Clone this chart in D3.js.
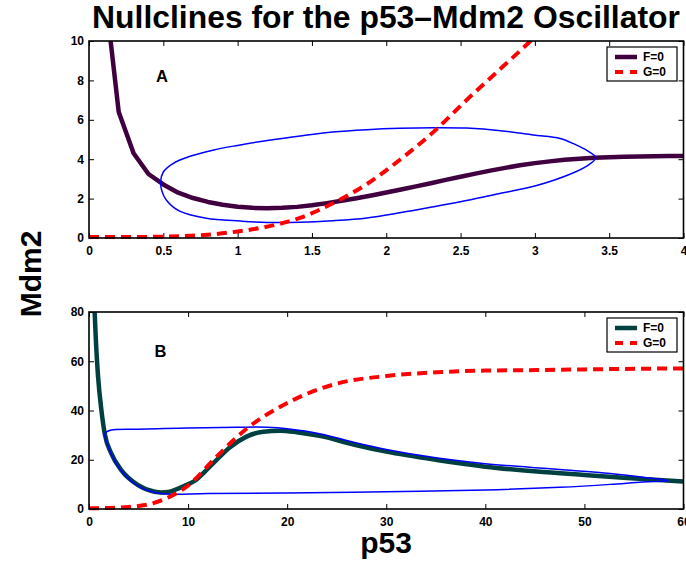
<!DOCTYPE html>
<html>
<head>
<meta charset="utf-8">
<script src="https://cdn.jsdelivr.net/npm/d3@7/dist/d3.min.js"></script>
<style>
  html, body { margin: 0; padding: 0; background: #fff; }
  svg { display: block; }
  text { font-family: "Liberation Sans", Arial, Helvetica, sans-serif; font-weight: bold; fill: #000; }
</style>
</head>
<body>
<svg id="chart" width="686" height="569"></svg>
<script>
// ---------------- DATA ----------------
const titleText = "Nullclines for the p53\u2013Mdm2 Oscillator";
const xLabelText = "p53";
const yLabelText = "Mdm2";
const legendLabels = ["F=0", "G=0"];
const panelLabels = ["A", "B"];

// Panel A ticks
const xTicksA = [0, 0.5, 1, 1.5, 2, 2.5, 3, 3.5, 4];
const yTicksA = [0, 2, 4, 6, 8, 10];
// Panel B ticks
const xTicksB = [0, 10, 20, 30, 40, 50, 60];
const yTicksB = [0, 20, 40, 60, 80];

// Panel A: F=0 nullcline
const fA_p53  = [0.1, 0.2, 0.3, 0.4, 0.5, 0.6, 0.7, 0.8, 0.9, 1.0, 1.1, 1.2, 1.3, 1.4, 1.5, 1.6, 1.7, 1.8, 1.9, 2.0, 2.1, 2.2, 2.3, 2.4, 2.5, 2.6, 2.7, 2.8, 2.9, 3.0, 3.1, 3.2, 3.3, 3.4, 3.5, 3.6, 3.7, 3.8, 3.9, 4.0];
const fA_mdm2 = [13.0, 6.4, 4.3, 3.25, 2.72, 2.3, 2.03, 1.83, 1.69, 1.59, 1.53, 1.51, 1.53, 1.58, 1.66, 1.77, 1.89, 2.02, 2.16, 2.31, 2.46, 2.62, 2.78, 2.95, 3.11, 3.27, 3.42, 3.56, 3.69, 3.8, 3.89, 3.97, 4.02, 4.07, 4.1, 4.12, 4.14, 4.15, 4.16, 4.16];
// Panel A: G=0 nullcline
const gA_p53  = [0, 0.25, 0.5, 0.75, 1.0, 1.25, 1.42, 1.64, 1.87, 2.09, 2.32, 2.54, 2.77, 2.97, 3.1];
const gA_mdm2 = [0.05, 0.05, 0.07, 0.14, 0.33, 0.66, 1.02, 1.76, 2.74, 3.96, 5.4, 7.0, 8.6, 10.0, 11.0];
// Panel A: limit cycle
const lcA_p53  = [0.482, 0.50, 0.567, 0.68, 0.84, 1.0, 1.2, 1.42, 1.64, 1.87, 2.09, 2.32, 2.54, 2.77, 2.99, 3.17, 3.27, 3.36, 3.41, 3.36, 3.24, 3.0, 2.77, 2.54, 2.32, 2.09, 1.87, 1.64, 1.42, 1.2, 1.02, 0.79, 0.61, 0.52, 0.49];
const lcA_mdm2 = [2.86, 3.35, 3.79, 4.15, 4.47, 4.7, 4.95, 5.18, 5.38, 5.5, 5.57, 5.6, 5.58, 5.45, 5.23, 5.05, 4.75, 4.4, 4.08, 3.7, 3.25, 2.64, 2.27, 1.9, 1.59, 1.28, 1.02, 0.88, 0.8, 0.79, 0.86, 1.0, 1.36, 1.93, 2.4];

// Panel B: F=0 nullcline
const fB_p53  = [0.45, 0.57, 0.7, 0.91, 1.25, 1.58, 2.25, 3.26, 4.95, 6.63, 7.3, 7.97, 9.18, 10.0, 10.87, 11.7, 12.55, 14.2, 15.9, 17.6, 19.3, 20.96, 23.4, 26.8, 30, 35.1, 40, 45.2, 50, 54.3, 60];
const fB_mdm2 = [92, 80, 68, 54, 40.2, 30.7, 22.6, 15.8, 9.7, 7.0, 6.7, 6.9, 8.6, 10.0, 12.0, 15.2, 18.6, 25.0, 29.4, 31.4, 31.8, 31.2, 29.6, 26.1, 23.3, 19.9, 17.2, 15.2, 13.8, 12.6, 11.2];
// Panel B: G=0 nullcline
const gB_p53  = [0, 2, 4, 5, 6.15, 7.3, 8.5, 9.86, 10.5, 12.55, 14.2, 15.9, 17.6, 19.3, 21.7, 25.1, 30, 35.1, 40, 45.2, 50, 60];
const gB_mdm2 = [0.3, 0.4, 0.8, 1.2, 2.0, 3.5, 5.7, 9.1, 11.3, 19.9, 26.5, 32.6, 37.5, 41.5, 46.3, 51, 54, 55.5, 56.2, 56.4, 56.7, 57.1];
// Panel B: limit cycle
const lcB_p53  = [1.58, 2.0, 5, 10, 15, 18, 20, 23.4, 26.8, 30, 35, 40, 45, 47.5, 52.6, 55.9, 58.5, 55.9, 52.6, 47.5, 40, 30, 20, 12, 7.2, 5.0, 3.3, 2.25, 1.8];
const lcB_mdm2 = [30.5, 31.8, 32.4, 32.9, 33.2, 33.2, 32.6, 30.5, 27.0, 24.2, 20.8, 18.4, 16.8, 16.0, 14.4, 12.9, 11.5, 11.0, 10.0, 8.8, 7.7, 7.0, 6.5, 6.3, 6.3, 9.2, 15.3, 22.2, 27.0];

// ---------------- STYLE / LAYOUT ----------------
const svg = d3.select("#chart");
const left = 89, right = 683.5;
const panels = [
  { id: "A", top: 41, bottom: 238, xDomain: [0, 4], yDomain: [0, 10], xTicks: xTicksA, yTicks: yTicksA,
    f: [fA_p53, fA_mdm2], g: [gA_p53, gA_mdm2], lc: [lcA_p53, lcA_mdm2], fColor: "#400040",
    label: panelLabels[0], labelPos: [162, 82] },
  { id: "B", top: 312, bottom: 509, xDomain: [0, 60], yDomain: [0, 80], xTicks: xTicksB, yTicks: yTicksB,
    f: [fB_p53, fB_mdm2], g: [gB_p53, gB_mdm2], lc: [lcB_p53, lcB_mdm2], fColor: "#004040",
    label: panelLabels[1], labelPos: [160.5, 357] }
];

const zip = (a, b) => a.map((v, i) => [v, b[i]]);

panels.forEach((p, idx) => {
  const w = right - left, h = p.bottom - p.top;
  const x = d3.scaleLinear().domain(p.xDomain).range([0, w]);
  const y = d3.scaleLinear().domain(p.yDomain).range([h, 0]);
  const g = svg.append("g").attr("transform", `translate(${left},${p.top})`);

  const clipId = "clip" + p.id;
  svg.append("defs").append("clipPath").attr("id", clipId)
    .append("rect").attr("x", -3).attr("y", 0).attr("width", w + 3).attr("height", h + 3);

  // axes with inward ticks
  const fmt = d => String(d);
  const ax = g.append("g").attr("class", "axes");
  ax.append("g").attr("transform", `translate(0,${h})`)
    .call(d3.axisBottom(x).tickValues(p.xTicks).tickFormat(fmt).tickSizeInner(-5).tickSizeOuter(0).tickPadding(8.5));
  ax.append("g")
    .call(d3.axisLeft(y).tickValues(p.yTicks).tickFormat(fmt).tickSizeInner(-5).tickSizeOuter(0).tickPadding(5));
  ax.append("g")
    .call(d3.axisTop(x).tickValues(p.xTicks).tickFormat("").tickSizeInner(-5).tickSizeOuter(0));
  ax.append("g").attr("transform", `translate(${w},0)`)
    .call(d3.axisRight(y).tickValues(p.yTicks).tickFormat("").tickSizeInner(-5).tickSizeOuter(0));
  ax.selectAll(".domain").remove();
  ax.selectAll(".tick line").attr("stroke", "#000").attr("stroke-width", 1);
  ax.selectAll(".tick text").attr("font-size", 12).attr("font-weight", "bold")
    .attr("font-family", "Liberation Sans, Arial, sans-serif").attr("fill", "#000");

  const plot = g.append("g").attr("clip-path", `url(#${clipId})`);
  const line = d3.line().x(d => x(d[0])).y(d => y(d[1]));

  // F=0
  plot.append("path").datum(zip(p.f[0], p.f[1]))
    .attr("d", idx === 0 ? line.curve(d3.curveLinear) : line.curve(d3.curveMonotoneX))
    .attr("fill", "none").attr("stroke", p.fColor).attr("stroke-width", 4.5)
    .attr("stroke-linejoin", "round");

  // limit cycle
  plot.append("path").datum(zip(p.lc[0], p.lc[1]))
    .attr("d", d3.line().x(d => x(d[0])).y(d => y(d[1])).curve(d3.curveCatmullRomClosed.alpha(0.5)))
    .attr("fill", "none").attr("stroke", "#0000ff").attr("stroke-width", 1.5);

  // G=0
  plot.append("path").datum(zip(p.g[0], p.g[1]))
    .attr("d", d3.line().x(d => x(d[0])).y(d => y(d[1])).curve(d3.curveMonotoneX))
    .attr("fill", "none").attr("stroke", "#ff0000").attr("stroke-width", 4)
    .attr("stroke-dasharray", "10,6");

  // box
  g.append("rect").attr("x", 0).attr("y", 0).attr("width", w).attr("height", h)
    .attr("fill", "none").attr("stroke", "#000").attr("stroke-width", 1.6);

  // panel label
  svg.append("text").attr("x", p.labelPos[0]).attr("y", p.labelPos[1])
    .attr("text-anchor", "middle").attr("font-size", 16.5).text(p.label);

  // legend
  const lx = w - 76.5, ly = 6;
  const lg = g.append("g").attr("transform", `translate(${lx},${ly})`);
  lg.append("rect").attr("width", 70).attr("height", 34).attr("fill", "#fff")
    .attr("stroke", "#000").attr("stroke-width", 1.2);
  const rows = [
    { label: legendLabels[0], color: p.fColor, width: 4.5, dash: null },
    { label: legendLabels[1], color: "#ff0000", width: 4, dash: "8,7" }
  ];
  rows.forEach((r, i) => {
    const yy = 10 + i * 15;
    lg.append("line").attr("x1", 8).attr("x2", 30).attr("y1", yy).attr("y2", yy)
      .attr("stroke", r.color).attr("stroke-width", r.width)
      .attr("stroke-dasharray", r.dash);
    lg.append("text").attr("x", 36).attr("y", yy).attr("dy", "0.36em")
      .attr("font-size", 12).text(r.label);
  });
});

// Title
const title = svg.append("text").attr("x", 386).attr("y", 27.5).attr("text-anchor", "middle")
  .attr("font-size", 28).text(titleText);
const tl = title.node().getComputedTextLength();
title.attr("font-size", 28 * 588 / tl);

// Axis labels
svg.append("text").attr("x", 386).attr("y", 553).attr("text-anchor", "middle")
  .attr("font-size", 30).text(xLabelText);
svg.append("text").attr("transform", "translate(41,274) rotate(-90)")
  .attr("text-anchor", "middle").attr("font-size", 30).text(yLabelText);
</script>
</body>
</html>
